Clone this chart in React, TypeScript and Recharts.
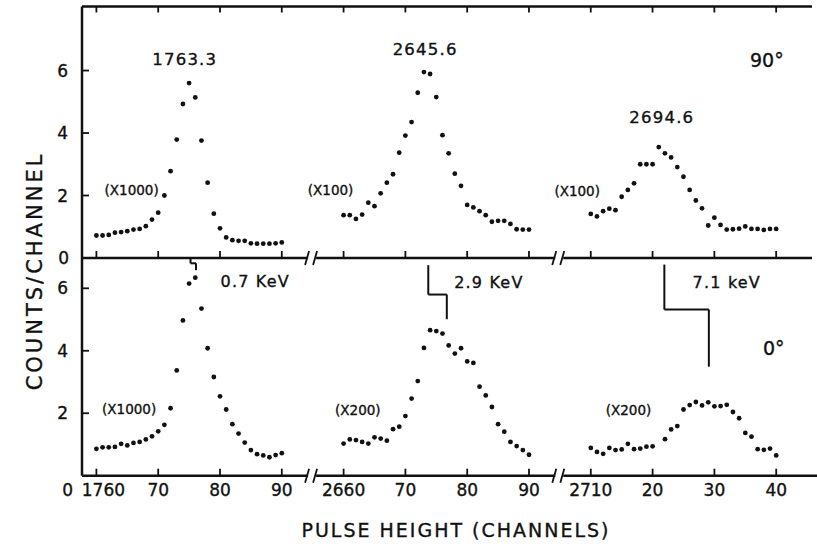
import { ScatterChart, Scatter, XAxis, YAxis, ReferenceLine, ReferenceDot } from 'recharts'

const FONT = '"DejaVu Sans", sans-serif'
const INK = '#111'
const TXT = { fontFamily: FONT, fill: INK, stroke: INK, strokeWidth: 0.35 }

// broken channel axis: three windows, each drawn 40 units apart
const SEG_START = [1760, 2660, 2710]
const SEG_POS = [0, 40, 80]
const X_TICKS = [0, 10, 20, 30, 40, 50, 60, 70, 80, 90, 100, 110]
const X_TICK_LABELS = ['1760', '70', '80', '90', '2660', '70', '80', '90', '2710', '20', '30', '40']
const X_BREAKS = [34.9, 74.9]
const Y_TICKS = [0, 2, 4, 6]

const CH_A = [1760, 1761, 1762, 1763, 1764, 1765, 1766, 1767, 1768, 1769, 1770, 1771, 1772, 1773, 1774, 1775,
  1776, 1777, 1778, 1779, 1780, 1781, 1782, 1783, 1784, 1785, 1786, 1787, 1788, 1789, 1790]
const CH_B = [2660, 2661, 2662, 2663, 2664, 2665, 2666, 2667, 2668, 2669, 2670, 2671, 2672, 2673, 2674, 2675,
  2676, 2677, 2678, 2679, 2680, 2681, 2682, 2683, 2684, 2685, 2686, 2687, 2688, 2689, 2690]
const CH_C = [2710, 2711, 2712, 2713, 2714, 2715, 2716, 2717, 2718, 2719, 2720, 2721, 2722, 2723, 2724, 2725,
  2726, 2727, 2728, 2729, 2730, 2731, 2732, 2733, 2734, 2735, 2736, 2737, 2738, 2739, 2740]
const CH_C0 = [2710, 2711, 2712, 2713, 2714, 2715, 2716, 2717, 2718, 2719, 2720, 2722, 2723, 2724, 2725,
  2726, 2727, 2728, 2729, 2730, 2731, 2732, 2733, 2734, 2735, 2736, 2737, 2738, 2739, 2740]

// 90 degrees
const TOP_A = [0.72, 0.72, 0.74, 0.81, 0.83, 0.86, 0.91, 0.93, 1.02, 1.23, 1.45, 2.0, 2.78, 3.79, 4.93, 5.6,
  5.14, 3.76, 2.41, 1.42, 0.95, 0.66, 0.57, 0.55, 0.55, 0.47, 0.46, 0.46, 0.46, 0.47, 0.5]
const TOP_B = [1.37, 1.37, 1.25, 1.39, 1.77, 1.66, 2.07, 2.41, 2.68, 3.37, 3.92, 4.35, 5.29, 5.95, 5.89, 5.15,
  3.93, 3.35, 2.7, 2.31, 1.7, 1.62, 1.5, 1.37, 1.16, 1.19, 1.19, 1.09, 0.92, 0.91, 0.91]
const TOP_C = [1.41, 1.33, 1.5, 1.58, 1.53, 1.96, 2.18, 2.39, 3.0, 3.0, 3.0, 3.55, 3.35, 3.22, 2.91, 2.6,
  2.18, 1.84, 1.59, 1.04, 1.29, 1.06, 0.91, 0.92, 0.94, 1.01, 0.93, 0.93, 0.9, 0.93, 0.93]

// 0 degrees
const BOT_A = [0.86, 0.91, 0.91, 0.92, 1.02, 0.97, 1.05, 1.08, 1.16, 1.26, 1.42, 1.63, 2.16, 3.37, 4.97, 6.15,
  6.34, 5.35, 4.08, 3.16, 2.54, 2.12, 1.65, 1.35, 1.06, 0.82, 0.69, 0.65, 0.59, 0.66, 0.72]
const BOT_B = [1.03, 1.16, 1.14, 1.08, 1.03, 1.23, 1.19, 1.12, 1.49, 1.57, 1.91, 2.47, 3.03, 4.09, 4.66, 4.63,
  4.55, 4.17, 3.91, 4.08, 3.66, 3.61, 2.85, 2.57, 2.2, 1.65, 1.41, 1.08, 0.95, 0.82, 0.67]
const BOT_C = [0.89, 0.76, 0.7, 0.89, 0.82, 0.84, 1.02, 0.85, 0.87, 0.93, 0.94, 1.17, 1.48, 1.59, 2.12,
  2.26, 2.36, 2.25, 2.35, 2.22, 2.23, 2.27, 2.04, 1.84, 1.37, 1.25, 0.85, 0.83, 0.87, 0.65]

const TOP_NOTES = [
  { u: 14.3, y: 6.34, text: '1763.3', size: 16.5 },
  { u: 53.2, y: 6.66, text: '2645.6', size: 16.5 },
  { u: 91.5, y: 4.5, text: '2694.6', size: 16.5 },
  { u: 108.5, y: 6.34, text: '90°', size: 19 },
  { u: 5.7, y: 2.18, text: '(X1000)', size: 13.5 },
  { u: 37.9, y: 2.18, text: '(X100)', size: 13.5 },
  { u: 77.8, y: 2.14, text: '(X100)', size: 13.5 },
]
const BOT_NOTES = [
  { u: 25.7, y: 6.21, text: '0.7 KeV', size: 16 },
  { u: 63.5, y: 6.19, text: '2.9 KeV', size: 16 },
  { u: 102, y: 6.17, text: '7.1 keV', size: 16 },
  { u: 109.6, y: 4.08, text: '0°', size: 19 },
  { u: 5.3, y: 2.13, text: '(X1000)', size: 13.5 },
  { u: 42.3, y: 2.1, text: '(X200)', size: 13.5 },
  { u: 86.1, y: 2.1, text: '(X200)', size: 13.5 },
]
// resolution brackets (x in axis units, counts)
const BRACKETS = [
  [[15.23, 6.97], [15.23, 6.8], [16.12, 6.8], [16.12, 6.58]],
  [[53.7, 6.74], [53.7, 5.8], [56.7, 5.8], [56.7, 5.01]],
  [[91.9, 6.76], [91.9, 5.32], [99.1, 5.32], [99.1, 3.49]],
]

const X_DOMAIN = [-2.33, 115.8]

const pos = (ch: number) => {
  let i = 0
  for (let k = 0; k < SEG_START.length; k++) if (ch >= SEG_START[k]) i = k
  return ch - SEG_START[i] + SEG_POS[i]
}
const toPts = (chs: number[], ys: number[]) => chs.map((c, i) => ({ u: pos(c), y: ys[i] }))

const Dot = (p: any) => <circle cx={p.cx} cy={p.cy} r={2.4} fill={INK} />

const BreakMark = (p: any) => (
  <g>
    <rect x={p.cx - 4} y={p.cy - 3} width={8} height={6} fill="#fff" />
    <line x1={p.cx - 7} y1={p.cy + 7} x2={p.cx - 3} y2={p.cy - 7} stroke={INK} strokeWidth={1.8} />
    <line x1={p.cx + 1} y1={p.cy + 7} x2={p.cx + 5} y2={p.cy - 7} stroke={INK} strokeWidth={1.8} />
  </g>
)

const noteText = (n: { text: string; size: number }) => (p: any) => (
  <text x={p.cx} y={p.cy} textAnchor="middle" dominantBaseline="central" {...TXT}
    fontSize={n.size} letterSpacing={n.size >= 16 && n.text.length > 4 ? 1.2 : 0}>{n.text}</text>
)

const UpTick = (p: any) => (
  <line x1={p.x} x2={p.x} y1={p.y} y2={p.y - 7} stroke={INK} strokeWidth={1.8} />
)
const DownTick = (p: any) => (
  <line x1={p.x} x2={p.x} y1={p.y} y2={p.y + 6} stroke={INK} strokeWidth={1.8} />
)
const LabelTick = (p: any) => {
  const i = X_TICKS.indexOf(p.payload.value)
  return (
    <g>
      <line x1={p.x} x2={p.x} y1={p.y} y2={p.y - 7} stroke={INK} strokeWidth={1.8} />
      <text x={p.x + (i === 0 ? 7 : 0)} y={p.y + 20.5} textAnchor="middle" {...TXT} fontSize={17}>
        {X_TICK_LABELS[i]}
      </text>
    </g>
  )
}
const YTick = (bottom: boolean) => (p: any) => {
  const v = p.payload.value
  if (v === 0) {
    return bottom
      ? <text x={p.x - 9} y={p.y + 20.5} textAnchor="end" {...TXT} fontSize={17}>0</text>
      : <text x={p.x - 13} y={p.y + 6} textAnchor="end" {...TXT} fontSize={17}>0</text>
  }
  return (
    <g>
      <line x1={p.x} x2={p.x + 7} y1={p.y} y2={p.y} stroke={INK} strokeWidth={1.8} />
      <text x={p.x - 14} y={p.y + 6} textAnchor="end" {...TXT} fontSize={17}>{v}</text>
    </g>
  )
}

const axisLine = { stroke: INK, strokeWidth: 2.5 }

const segLines = (key: string) =>
  BRACKETS.flatMap((b, j) =>
    b.slice(1).map((q, i) => (
      <ReferenceLine key={`${key}${j}-${i}`} segment={[{ x: b[i][0], y: b[i][1] }, { x: q[0], y: q[1] }]}
        stroke={INK} strokeWidth={2} ifOverflow="visible" />
    )))

export default function App() {
  return (
    <div style={{ position: 'absolute', left: 0, top: 0, width: 817, height: 550, background: '#fff' }}>
      <div style={{ position: 'absolute', left: 0, top: 0 }}>
        <ScatterChart width={817} height={290} margin={{ top: 0, right: 5, bottom: 0, left: 0 }}>
          <XAxis type="number" dataKey="u" domain={X_DOMAIN} ticks={X_TICKS} height={32} allowDataOverflow
            axisLine={axisLine} tickLine={false} tickSize={0} tickMargin={0} tick={UpTick} />
          <XAxis xAxisId="top" orientation="top" type="number" dataKey="u" domain={X_DOMAIN} ticks={X_TICKS}
            height={6.5} allowDataOverflow axisLine={axisLine} tickLine={false} tickSize={0} tickMargin={0} tick={DownTick} />
          <YAxis type="number" dataKey="y" domain={[0, 8.05]} ticks={Y_TICKS} width={82} allowDataOverflow
            axisLine={axisLine} tickLine={false} tickSize={0} tickMargin={0} tick={YTick(false)} />
          <Scatter data={toPts(CH_A, TOP_A)} shape={Dot} isAnimationActive={false} />
          <Scatter data={toPts(CH_B, TOP_B)} shape={Dot} isAnimationActive={false} />
          <Scatter data={toPts(CH_C, TOP_C)} shape={Dot} isAnimationActive={false} />
          {TOP_NOTES.map((n) => (
            <ReferenceDot key={n.text + n.u} x={n.u} y={n.y} r={0} shape={noteText(n)} ifOverflow="visible" />
          ))}
          {X_BREAKS.map((b) => (
            <ReferenceDot key={'tb' + b} x={b} y={0} r={0} shape={BreakMark} ifOverflow="visible" />
          ))}
        </ScatterChart>
      </div>
      <div style={{ position: 'absolute', left: 0, top: 0 }}>
        <ScatterChart width={817} height={550} margin={{ top: 258, right: 0, bottom: 0, left: 0 }}>
          <XAxis type="number" dataKey="u" domain={[X_DOMAIN[0], 116.6]} ticks={X_TICKS} height={74.3} allowDataOverflow
            axisLine={axisLine} tickLine={false} tickSize={0} tickMargin={0} tick={LabelTick} />
          <YAxis type="number" dataKey="y" domain={[0, 6.97]} ticks={Y_TICKS} width={82} allowDataOverflow
            axisLine={axisLine} tickLine={false} tickSize={0} tickMargin={0} tick={YTick(true)} />
          <Scatter data={toPts(CH_A, BOT_A)} shape={Dot} isAnimationActive={false} />
          <Scatter data={toPts(CH_B, BOT_B)} shape={Dot} isAnimationActive={false} />
          <Scatter data={toPts(CH_C0, BOT_C)} shape={Dot} isAnimationActive={false} />
          {segLines('br')}
          {BOT_NOTES.map((n) => (
            <ReferenceDot key={n.text + n.u} x={n.u} y={n.y} r={0} shape={noteText(n)} ifOverflow="visible" />
          ))}
          {X_BREAKS.map((b) => (
            <ReferenceDot key={'bb' + b} x={b} y={0} r={0} shape={BreakMark} ifOverflow="visible" />
          ))}
        </ScatterChart>
      </div>
      <svg width={817} height={550} style={{ position: 'absolute', left: 0, top: 0, pointerEvents: 'none' }}>
        <text transform="translate(42 271) rotate(-90)" textAnchor="middle" {...TXT} fontSize={21}
          letterSpacing={3}>COUNTS/CHANNEL</text>
        <text x={456} y={537} textAnchor="middle" {...TXT} fontSize={19} letterSpacing={2}>
          PULSE HEIGHT (CHANNELS)
        </text>
      </svg>
    </div>
  )
}
